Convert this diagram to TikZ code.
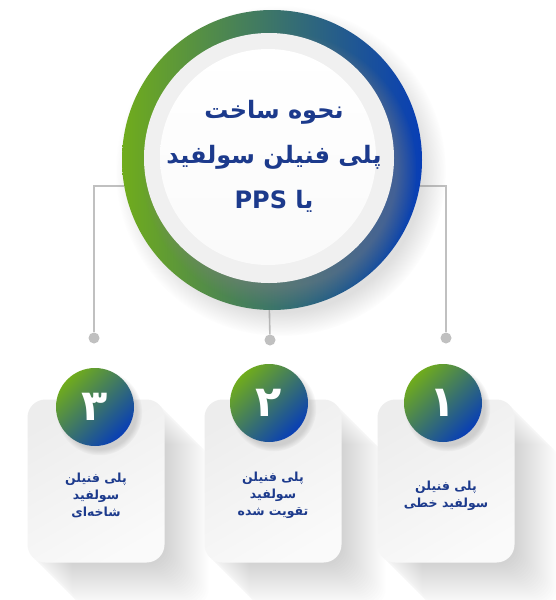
\documentclass[tikz,border=0pt]{standalone}
\usepackage{fontspec}
\usetikzlibrary{shadows,fadings}
\TeXXeTstate=1
\newfontfamily\fa[Script=Arabic]{DejaVu Sans}
\definecolor{grn}{RGB}{112,172,28}
\definecolor{blu}{RGB}{8,62,182}
\definecolor{txt}{RGB}{28,58,140}
\definecolor{ln}{RGB}{192,192,192}
\pgfdeclarelayer{bg}
\pgfsetlayers{bg,main}
\begin{document}
\begin{tikzpicture}[x=1pt,y=-1pt,
  ring/.style={circle, minimum size=300pt, inner sep=0pt, draw=none, left color=grn, right color=blu},
  disc/.style={circle, inner sep=0pt, draw=none},
  numc/.style={circle, minimum size=78pt, inner sep=0pt, draw=none, top color=grn, bottom color=blu, shading angle=45,
     circular drop shadow={shadow xshift=4pt, shadow yshift=-5pt, opacity=0.3}},
  card/.style={rectangle, rounded corners=18pt, minimum width=137pt, minimum height=163pt, inner sep=0pt, draw=none,
     top color=gray!14, bottom color=gray!4, shading angle=30},
  dot/.style={circle, fill=ln, minimum size=11pt, inner sep=0pt},
  conn/.style={draw=ln, line width=1.6pt},
  numtxt/.style={text=white, font=\fa\bfseries\fontsize{43}{43}\selectfont, inner sep=0pt},
  cardtxt/.style={text=txt, align=center, font=\fa\bfseries\fontsize{12.5}{17}\selectfont, inner sep=0pt},
  titletxt/.style={text=txt, align=center, font=\fa\bfseries\fontsize{24}{45}\selectfont, inner sep=0pt}
]
\useasboundingbox (0,0) rectangle (555,600);

% main circle
\node[ring, circular drop shadow={shadow xshift=8pt, shadow yshift=-10pt, opacity=0.25}] (main) at (272,160) {};
\node[disc, minimum size=250pt, fill=gray!12, circular drop shadow={shadow xshift=9pt, shadow yshift=-10pt, opacity=0.45}] (inner) at (269,158) {};
\node[disc, minimum size=216pt, top color=white, bottom color=gray!4] (core) at (268,157) {};
\node[titletxt] (title) at (274,156) {\beginR نحوه ساخت\endR\\ \beginR پلی فنیلن سولفید\endR\\ \beginR یا \beginL PPS\endL\endR};

% dots
\node[dot] (d1) at (446,338) {};
\node[dot] (d2) at (270,340) {};
\node[dot] (d3) at (94,338) {};

% cards
\node[card] (c1) at (446,481) {};
\node[card] (c2) at (273,481) {};
\node[card] (c3) at (96,481) {};

\begin{pgfonlayer}{bg}
  \fill[white] (0,0) rectangle (555,600);
  \draw[conn] (main.350) -| (d1);
  \draw[conn] (main.269) -- (d2);
  \draw[conn] (main.190) -| (d3);
  \foreach \c in {c1,c2,c3}{
    \foreach \k in {1,...,22}{
      \fill[black, opacity=0.0065, rounded corners=18pt]
        ([shift={(\k*2,\k*2)}]\c.north west) rectangle ([shift={(\k*2,\k*2)}]\c.south east);
    }
  }
\end{pgfonlayer}

% number circles
\node[numc] (n1) at (443,403) {};
\node[numc] (n2) at (269,403) {};
\node[numc] (n3) at (95,407) {};
\node[numtxt] at (n1) {۱};
\node[numtxt] at (n2) {۲};
\node[numtxt] at (n3) {۳};

% card texts
\node[cardtxt] (t1) at (446,496) {\beginR پلی فنیلن\endR\\ \beginR سولفید خطی\endR};
\node[cardtxt] (t2) at (273,495) {\beginR پلی فنیلن\endR\\ \beginR سولفید\endR\\ \beginR تقویت شده\endR};
\node[cardtxt] (t3) at (96,495) {\beginR پلی فنیلن\endR\\ \beginR سولفید\endR\\ \beginR شاخه‌ای\endR};
\end{tikzpicture}
\end{document}
